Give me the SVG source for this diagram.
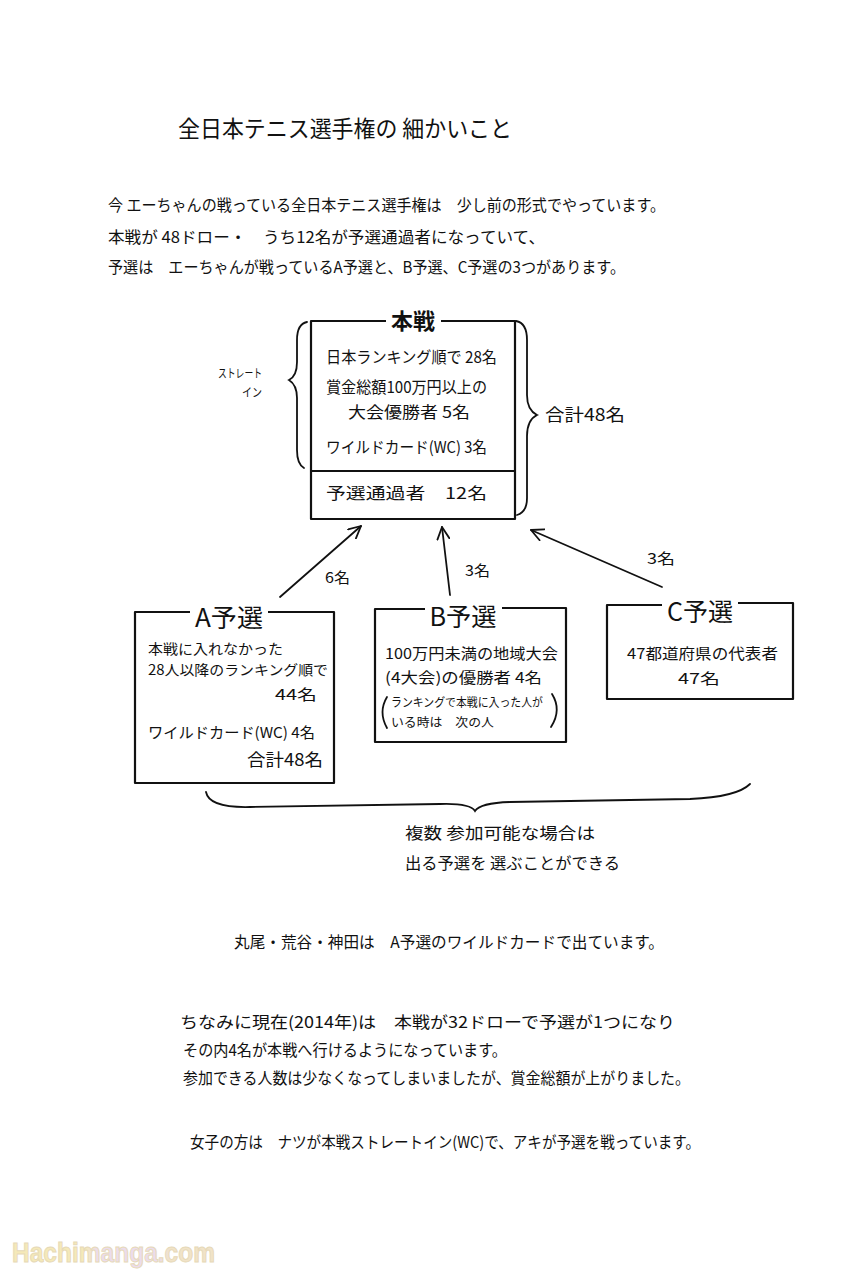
<svg xmlns="http://www.w3.org/2000/svg" width="862" height="1277" viewBox="0 0 862 1277">
<style>
  .t { font-family: "Noto Sans CJK JP", "Noto Sans", sans-serif; fill: #111; }
  .b16 { font-size: 16px; }
  .b15 { font-size: 15px; }
  .b14 { font-size: 14px; }
  .b12 { font-size: 12px; }
  .ttl { font-size: 25px; }
  .box { fill: none; stroke: #111; stroke-width: 2.2; stroke-linejoin: round; }
  .ln { fill: none; stroke: #111; stroke-width: 1.8; stroke-linecap: round; }
  .wm { font-family: "Liberation Sans", sans-serif; font-size: 27px; font-weight: bold; stroke: #e6d9b8; stroke-width: 1; }
</style>
<defs>
  <marker id="arr" viewBox="0 0 14 14" refX="13" refY="7" markerWidth="14" markerHeight="14" markerUnits="userSpaceOnUse" orient="auto">
    <path d="M1,1 L13,7 L1,13" fill="none" stroke="#111" stroke-width="1.8" stroke-linecap="round" stroke-linejoin="round"/>
  </marker>
  <linearGradient id="wmg" gradientUnits="userSpaceOnUse" x1="12" y1="0" x2="215" y2="0">
    <stop offset="0" stop-color="#f5e9b8"/>
    <stop offset="0.36" stop-color="#f5e9b8"/>
    <stop offset="0.42" stop-color="#ecdcec"/>
    <stop offset="0.72" stop-color="#ecdcec"/>
    <stop offset="0.78" stop-color="#f1e3c8"/>
    <stop offset="1" stop-color="#f1e3c8"/>
  </linearGradient>
</defs>
<rect width="862" height="1277" fill="#fff"/>

<g id="header">
  <text class="t" x="178" y="137" font-size="23" textLength="334" lengthAdjust="spacingAndGlyphs">全日本テニス選手権の 細かいこと</text>
  <text class="t b16" x="108" y="211" textLength="557" lengthAdjust="spacingAndGlyphs">今 エーちゃんの戦っている全日本テニス選手権は　少し前の形式でやっています。</text>
  <text class="t b16" x="108" y="243" textLength="437" lengthAdjust="spacingAndGlyphs">本戦が 48ドロー・　うち12名が予選通過者になっていて、</text>
  <text class="t b16" x="108" y="273" textLength="517" lengthAdjust="spacingAndGlyphs">予選は　エーちゃんが戦っているA予選と、B予選、C予選の3つがあります。</text>
</g>

<g id="node-honsen">
  <path class="box" d="M386,321 H311 V519 H515 V321 H441"/>
  <line class="box" x1="311" y1="471" x2="515" y2="471"/>
  <text class="t" x="413" y="329" font-size="22" font-weight="bold" text-anchor="middle">本戦</text>
  <text class="t b16" x="326" y="363" textLength="171" lengthAdjust="spacingAndGlyphs">日本ランキング順で 28名</text>
  <text class="t b16" x="326" y="393" textLength="161" lengthAdjust="spacingAndGlyphs">賞金総額100万円以上の</text>
  <text class="t b16" x="348" y="418" textLength="122" lengthAdjust="spacingAndGlyphs">大会優勝者 5名</text>
  <text class="t b16" x="326" y="453" textLength="161" lengthAdjust="spacingAndGlyphs">ワイルドカード(WC) 3名</text>
  <text class="t b16" x="326" y="499" textLength="161" lengthAdjust="spacingAndGlyphs">予選通過者　12名</text>
</g>

<g id="straight-in">
  <path class="ln" d="M307,322 Q297,324 297,340 L297,362 Q297,376 289,380 Q297,385 297,398 L297,450 Q297,464 304,468"/>
  <text class="t" x="218" y="378" font-size="12" textLength="44" lengthAdjust="spacingAndGlyphs">ストレート</text>
  <text class="t" x="242" y="397" font-size="12" textLength="20" lengthAdjust="spacingAndGlyphs">イン</text>
</g>

<g id="total-honsen">
  <path class="ln" d="M516,321 Q527,323 527,340 L527,395 Q527,410 537,415 Q527,420 527,436 L527,498 Q527,512 517,515"/>
  <text class="t" x="545" y="421" font-size="17" textLength="80" lengthAdjust="spacingAndGlyphs">合計48名</text>
</g>

<g id="node-a">
  <path class="box" d="M190,612 H135 V783 H334 V612 H268"/>
  <text class="t ttl" x="229" y="627" text-anchor="middle" textLength="68" lengthAdjust="spacingAndGlyphs">A予選</text>
  <text class="t b14" x="148" y="654" textLength="135" lengthAdjust="spacingAndGlyphs">本戦に入れなかった</text>
  <text class="t b14" x="148" y="675" textLength="180" lengthAdjust="spacingAndGlyphs">28人以降のランキング順で</text>
  <text class="t b15" x="275" y="700" textLength="42" lengthAdjust="spacingAndGlyphs">44名</text>
  <text class="t b15" x="148" y="738" textLength="167" lengthAdjust="spacingAndGlyphs">ワイルドカード(WC)  4名</text>
  <text class="t" x="247" y="766" font-size="17" textLength="76" lengthAdjust="spacingAndGlyphs">合計48名</text>
</g>

<g id="node-b">
  <path class="box" d="M425,609 H375 V742 H566 V608 H502"/>
  <text class="t ttl" x="463" y="626" text-anchor="middle" textLength="67" lengthAdjust="spacingAndGlyphs">B予選</text>
  <text class="t b15" x="385" y="659" textLength="173" lengthAdjust="spacingAndGlyphs">100万円未満の地域大会</text>
  <text class="t b15" x="385" y="683" textLength="157" lengthAdjust="spacingAndGlyphs">(4大会)の優勝者 4名</text>
  <path class="ln" d="M387,697 Q378,712 387,728" stroke-width="1.5"/>
  <path class="ln" d="M552,694 Q562,710 551,727" stroke-width="1.5"/>
  <text class="t b12" x="391" y="707" textLength="152" lengthAdjust="spacingAndGlyphs">ランキングで本戦に入った人が</text>
  <text class="t b12" x="391" y="727" textLength="103" lengthAdjust="spacingAndGlyphs">いる時は　次の人</text>
</g>

<g id="node-c">
  <path class="box" d="M662,605 H607 V699 H793 V603 H738"/>
  <text class="t ttl" x="700" y="621" text-anchor="middle" textLength="66" lengthAdjust="spacingAndGlyphs">C予選</text>
  <text class="t b15" x="627" y="659" textLength="151" lengthAdjust="spacingAndGlyphs">47都道府県の代表者</text>
  <text class="t b15" x="678" y="684" textLength="42" lengthAdjust="spacingAndGlyphs">47名</text>
</g>

<g id="connectors">
  <line class="ln" x1="280" y1="597" x2="361" y2="526" marker-end="url(#arr)"/>
  <line class="ln" x1="450" y1="595" x2="442" y2="527" marker-end="url(#arr)"/>
  <line class="ln" x1="662" y1="587" x2="531" y2="530" marker-end="url(#arr)"/>
  <text class="t b15" x="325" y="583" textLength="25" lengthAdjust="spacingAndGlyphs">6名</text>
  <text class="t b15" x="465" y="576" textLength="25" lengthAdjust="spacingAndGlyphs">3名</text>
  <text class="t b15" x="647" y="564" textLength="28" lengthAdjust="spacingAndGlyphs">3名</text>
</g>

<g id="brace-bottom">
  <path class="ln" d="M206,792 Q209,808 250,807 L440,804 Q470,803 475,811 Q480,803 510,802 L690,799 Q737,797 750,784"/>
  <text class="t b16" x="405" y="839" textLength="190" lengthAdjust="spacingAndGlyphs">複数 参加可能な場合は</text>
  <text class="t b16" x="405" y="869" textLength="215" lengthAdjust="spacingAndGlyphs">出る予選を 選ぶことができる</text>
</g>

<g id="notes">
  <text class="t b16" x="234" y="948" textLength="430" lengthAdjust="spacingAndGlyphs">丸尾・荒谷・神田は　A予選のワイルドカードで出ています。</text>
  <text class="t b16" x="180" y="1028" textLength="495" lengthAdjust="spacingAndGlyphs">ちなみに現在(2014年)は　本戦が32ドローで予選が1つになり</text>
  <text class="t b16" x="183" y="1056" textLength="324" lengthAdjust="spacingAndGlyphs">その内4名が本戦へ行けるようになっています。</text>
  <text class="t b16" x="183" y="1084" textLength="507" lengthAdjust="spacingAndGlyphs">参加できる人数は少なくなってしまいましたが、賞金総額が上がりました。</text>
  <text class="t b16" x="190" y="1148" textLength="510" lengthAdjust="spacingAndGlyphs">女子の方は　ナツが本戦ストレートイン(WC)で、アキが予選を戦っています。</text>
</g>

<g id="watermark">
  <text class="wm" x="12" y="1262" fill="url(#wmg)" textLength="203" lengthAdjust="spacingAndGlyphs">Hachimanga.com</text>
</g>
</svg>
